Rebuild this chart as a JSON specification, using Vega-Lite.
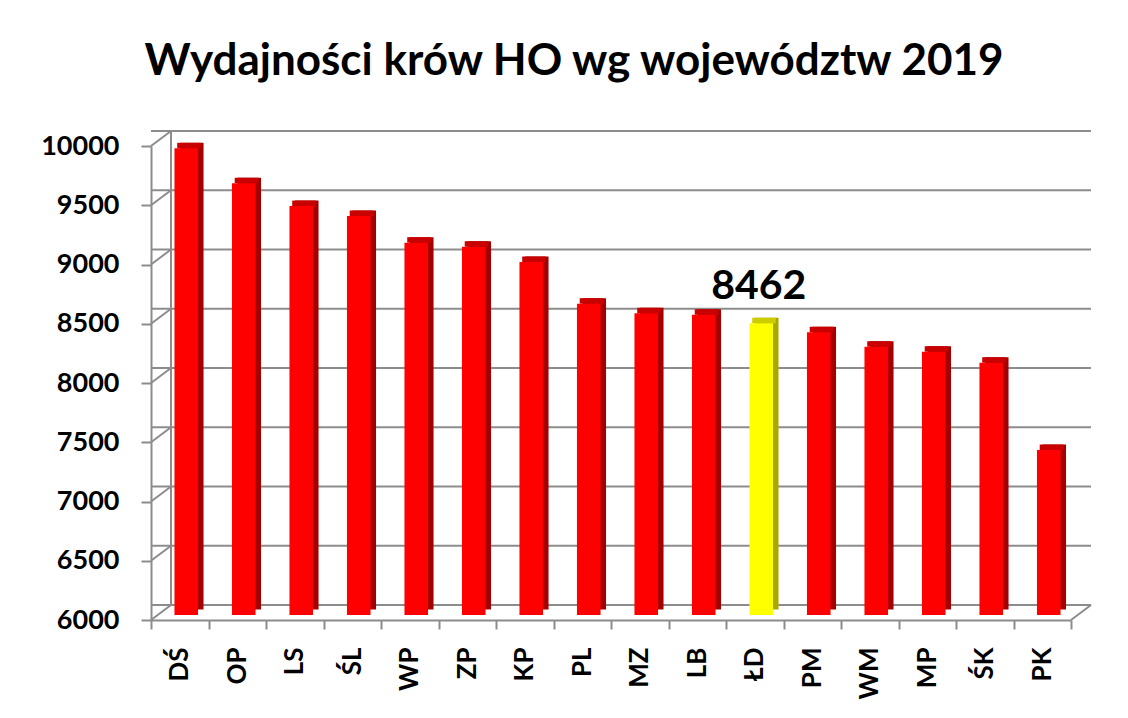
{
  "$schema": "https://vega.github.io/schema/vega-lite/v6.json",
  "width": 920,
  "height": 474,
  "autosize": {"type": "none"},
  "padding": {"left": 151, "top": 146, "right": 57, "bottom": 98},
  "background": "white",
  "title": {
    "text": "Wydajności krów HO wg województw 2019",
    "font": "Lato",
    "fontSize": 44,
    "fontWeight": "bold",
    "color": "black",
    "anchor": "middle",
    "frame": "group",
    "dx": -37,
    "offset": 43
  },
  "config": {"view": {"stroke": null}, "font": "Lato"},
  "datasets": {
    "woj": [
      {"woj": "DŚ", "value": 9938},
      {"woj": "OP", "value": 9643},
      {"woj": "LS", "value": 9451},
      {"woj": "ŚL", "value": 9367},
      {"woj": "WP", "value": 9142},
      {"woj": "ZP", "value": 9108},
      {"woj": "KP", "value": 8979},
      {"woj": "PL", "value": 8627},
      {"woj": "MZ", "value": 8546},
      {"woj": "LB", "value": 8534},
      {"woj": "ŁD", "value": 8462},
      {"woj": "PM", "value": 8386},
      {"woj": "WM", "value": 8264},
      {"woj": "MP", "value": 8222},
      {"woj": "ŚK", "value": 8129},
      {"woj": "PK", "value": 7392}
    ],
    "grid": [
      {"v": 6000}, {"v": 6500}, {"v": 7000}, {"v": 7500}, {"v": 8000},
      {"v": 8500}, {"v": 9000}, {"v": 9500}, {"v": 10000}
    ]
  },
  "layer": [
    {
      "data": {"name": "grid"},
      "mark": {"type": "rule", "color": "#8c8c8c", "strokeWidth": 2, "xOffset": 20, "x2Offset": 20, "yOffset": -15},
      "encoding": {
        "y": {
          "field": "v", "type": "quantitative",
          "scale": {"domain": [6000, 10000], "nice": false, "zero": false},
          "axis": {
            "title": null,
            "values": [6000, 6500, 7000, 7500, 8000, 8500, 9000, 9500, 10000],
            "format": "d",
            "grid": false,
            "labelFont": "Lato",
            "labelFontSize": 27,
            "labelFontWeight": "bold",
            "labelColor": "black",
            "labelPadding": 22,
            "tickSize": 10,
            "tickColor": "#8c8c8c",
            "tickWidth": 2,
            "domainColor": "#8c8c8c",
            "domainWidth": 2
          }
        }
      }
    },
    {
      "data": {"name": "grid"},
      "mark": {"type": "point", "shape": "M-1,0.75L1,-0.75", "size": 400, "filled": false, "stroke": "#8c8c8c", "strokeWidth": 2, "opacity": 1, "xOffset": 10, "yOffset": -7.5},
      "encoding": {
        "x": {"datum": "DŚ", "type": "nominal", "bandPosition": 0},
        "y": {"field": "v", "type": "quantitative"}
      }
    },
    {
      "data": {"values": [{}]},
      "mark": {"type": "point", "shape": "M-1,0.75L1,-0.75", "size": 400, "filled": false, "stroke": "#8c8c8c", "strokeWidth": 2, "opacity": 1, "xOffset": 10, "yOffset": -7.5},
      "encoding": {
        "x": {"datum": "PK", "type": "nominal", "bandPosition": 1},
        "y": {"datum": 6000, "type": "quantitative"}
      }
    },
    {
      "data": {"values": [{}]},
      "mark": {"type": "rule", "color": "#8c8c8c", "strokeWidth": 2, "xOffset": 20, "yOffset": -15, "y2Offset": -15},
      "encoding": {
        "x": {"datum": "DŚ", "type": "nominal", "bandPosition": 0},
        "y": {"datum": 6000, "type": "quantitative"},
        "y2": {"datum": 10000}
      }
    },
    {
      "data": {"name": "woj"},
      "mark": {"type": "bar", "width": {"band": 0.41}, "xOffset": 12, "yOffset": -10.5, "y2Offset": -10.5},
      "encoding": {
        "x": {
          "field": "woj", "type": "nominal", "sort": null,
          "scale": {"domain": ["DŚ", "OP", "LS", "ŚL", "WP", "ZP", "KP", "PL", "MZ", "LB", "ŁD", "PM", "WM", "MP", "ŚK", "PK"], "paddingInner": 0, "paddingOuter": 0},
          "axis": {
            "title": null,
            "labelAngle": -90,
            "labelAlign": "right",
            "labelBaseline": "middle",
            "labelFont": "Lato",
            "labelFontSize": 26,
            "labelFontWeight": "bold",
            "labelColor": "black",
            "labelPadding": 18,
            "tickBand": "extent",
            "tickSize": 9,
            "tickColor": "#8c8c8c",
            "tickWidth": 2,
            "domainColor": "#8c8c8c",
            "domainWidth": 2,
            "grid": false
          }
        },
        "y": {"field": "value", "type": "quantitative"},
        "y2": {"datum": 6000},
        "color": {"condition": {"test": "datum.woj === 'ŁD'", "value": "#a8a800"}, "value": "#a50000"}
      }
    },
    {
      "data": {"name": "woj"},
      "mark": {"type": "bar", "width": {"band": 0.41}, "xOffset": 9.25, "yOffset": -10.5, "y2Offset": -5},
      "encoding": {
        "x": {"field": "woj", "type": "nominal", "sort": null},
        "y": {"field": "value", "type": "quantitative"},
        "y2": {"field": "value"},
        "color": {"condition": {"test": "datum.woj === 'ŁD'", "value": "#cccc00"}, "value": "#c80000"}
      }
    },
    {
      "data": {"name": "woj"},
      "mark": {"type": "bar", "width": {"band": 0.41}, "xOffset": 6.5, "yOffset": -5, "y2Offset": -5},
      "encoding": {
        "x": {"field": "woj", "type": "nominal", "sort": null},
        "y": {"field": "value", "type": "quantitative"},
        "y2": {"datum": 6000},
        "color": {"condition": {"test": "datum.woj === 'ŁD'", "value": "#ffff00"}, "value": "#ff0000"}
      }
    },
    {
      "data": {"name": "woj"},
      "transform": [{"filter": "datum.woj === 'ŁD'"}],
      "mark": {"type": "text", "font": "Lato", "fontSize": 41, "fontWeight": "bold", "color": "black", "baseline": "alphabetic", "xOffset": 4, "yOffset": -5, "dy": -24},
      "encoding": {
        "x": {"field": "woj", "type": "nominal", "sort": null},
        "y": {"field": "value", "type": "quantitative"},
        "text": {"field": "value", "type": "quantitative", "format": "d"}
      }
    }
  ]
}
